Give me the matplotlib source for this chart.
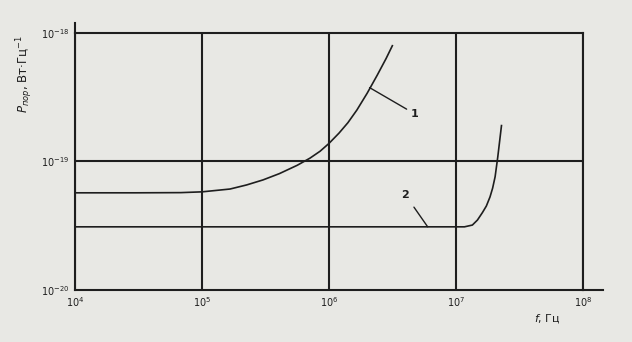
import matplotlib
matplotlib.use("Agg")
import matplotlib.pyplot as plt

# curve 1
f1 = [1e4, 3e4, 6.8e4, 1e5, 1.66e5, 2.24e5, 3.02e5, 4.07e5, 5.62e5, 7.08e5, 8.51e5,
      1.0e6, 1.2e6, 1.41e6, 1.66e6, 2.0e6, 2.4e6, 2.82e6, 3.16e6]
p1 = [5.7e-20, 5.7e-20, 5.72e-20, 5.8e-20, 6.1e-20, 6.56e-20, 7.18e-20, 8.04e-20, 9.33e-20, 1.06e-19, 1.2e-19,
      1.38e-19, 1.66e-19, 2.0e-19, 2.51e-19, 3.39e-19, 4.68e-19, 6.31e-19, 7.94e-19]

# curve 2
f2 = [1e4, 1e6, 1.02e7, 1.17e7, 1.35e7, 1.48e7, 1.62e7, 1.74e7, 1.86e7, 1.95e7, 2.04e7, 2.14e7, 2.29e7]
p2 = [3.1e-20, 3.1e-20, 3.1e-20, 3.1e-20, 3.2e-20, 3.5e-20, 4.0e-20, 4.5e-20, 5.3e-20, 6.2e-20, 7.6e-20,
      1.08e-19, 1.9e-19]

xticks = [1e4, 1e5, 1e6, 1e7, 1e8]
xlabels = ["$10^{4}$", "$10^{5}$", "$10^{6}$", "$10^{7}$", "$10^{8}$"]
yticks = [1e-20, 1e-19, 1e-18]
ylabels = ["$10^{-20}$", "$10^{-19}$", "$10^{-18}$"]

plt.rcParams["mathtext.fontset"] = "dejavusans"
bg = "#e8e8e4"
ink = "#1e1e1e"

fig = plt.figure(figsize=(6.32, 3.42), dpi=100, facecolor=bg)
ax = fig.add_axes([0.119, 0.152, 0.803, 0.752])
ax.set_facecolor(bg)
ax.set_xscale("log")
ax.set_yscale("log")
ax.set_xlim(1e4, 1e8)
ax.set_ylim(1e-20, 1e-18)

# grid: every decade in x, only 1e-19 in y
for x in xticks:
    ax.axvline(x, color=ink, lw=1.5)
ax.axhline(1e-19, color=ink, lw=1.5)
for s in ax.spines.values():
    s.set_linewidth(1.5)
    s.set_color(ink)

# axis lines sticking out past the frame, like the original drawing
ax.plot([0, 0], [1.0, 1.04], transform=ax.transAxes, color=ink, lw=1.5, clip_on=False)
ax.plot([1.0, 1.04], [0, 0], transform=ax.transAxes, color=ink, lw=1.5, clip_on=False)

ax.plot(f1, p1, color=ink, lw=1.2)
ax.plot(f2, p2, color=ink, lw=1.2)

ax.annotate("1", xy=(2.09e6, 3.75e-19), xytext=(4.4e6, 2.35e-19), fontsize=8,
            fontweight="bold", color=ink, ha="left", va="center",
            arrowprops=dict(arrowstyle="-", color=ink, lw=1.0, shrinkA=1, shrinkB=0))
ax.annotate("2", xy=(6.0e6, 3.1e-20), xytext=(4.0e6, 5.5e-20), fontsize=8,
            fontweight="bold", color=ink, ha="center", va="center",
            arrowprops=dict(arrowstyle="-", color=ink, lw=1.0, shrinkA=4, shrinkB=0))

ax.set_xticks(xticks)
ax.set_xticklabels(xlabels, fontsize=7, color=ink)
ax.set_yticks(yticks)
ax.set_yticklabels(ylabels, fontsize=7, color=ink)
ax.minorticks_off()
ax.tick_params(length=0, pad=4)

ax.text(-0.1, 0.84, "$P_{пор}$, Вт·Гц$^{-1}$", transform=ax.transAxes, rotation=90,
        fontsize=8.5, color=ink, ha="center", va="center")
ax.text(0.93, -0.11, "$f$, Гц", transform=ax.transAxes, fontsize=8, color=ink,
        ha="center", va="center")

fig.savefig("out.png", dpi=100, facecolor=bg)
